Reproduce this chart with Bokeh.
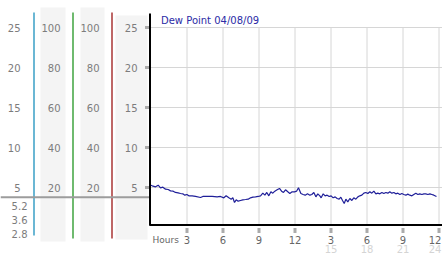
from bokeh.plotting import figure
from bokeh.models import Range1d, Legend, LegendItem
from bokeh.embed import file_html
from bokeh.resources import INLINE
from bokeh.core.properties import value

# ---------------- data ----------------
series_name = "Dew Point 04/08/09"
x_axis_name = "Hours"

hours = [0.0, 0.1, 0.38, 0.6, 0.79, 0.99, 1.21, 1.43, 1.63, 1.85,
         2.04, 2.26, 2.46, 2.65, 2.82, 2.99, 3.15, 3.43, 3.71, 4.13,
         4.32, 4.68, 5.1, 5.51, 5.79, 6.07, 6.26, 6.49, 6.68, 6.82,
         6.96, 7.1, 7.26, 7.46, 7.65, 7.88, 8.1, 8.29, 8.49, 8.71,
         8.93, 9.13, 9.32, 9.49, 9.65, 9.82, 9.99, 10.15, 10.32, 10.51,
         10.71, 10.88, 11.04, 11.21, 11.4, 11.57, 11.76, 11.96, 12.13, 12.29,
         12.49, 12.68, 12.85, 13.04, 13.24, 13.4, 13.57, 13.74, 13.9, 14.07,
         14.18, 14.35, 14.51, 14.68, 14.85, 15.01, 15.18, 15.35, 15.51, 15.68,
         15.82, 15.96, 16.1, 16.24, 16.4, 16.57, 16.74, 16.9, 17.07, 17.24,
         17.4, 17.57, 17.74, 17.9, 18.07, 18.24, 18.4, 18.57, 18.74, 18.9,
         19.07, 19.24, 19.4, 19.57, 19.74, 19.9, 20.07, 20.24, 20.4, 20.57,
         20.74, 20.9, 21.07, 21.24, 21.4, 21.57, 21.74, 21.9, 22.07, 22.24,
         22.4, 22.57, 22.74, 22.9, 23.07, 23.24, 23.4, 23.57, 23.79]
dew_point = [5.29, 5.21, 5.08, 5.29, 4.96, 5.04, 4.79, 4.75, 4.58, 4.54,
             4.38, 4.33, 4.25, 4.21, 4.04, 4.13, 3.96, 3.96, 3.88, 3.75,
             3.88, 3.88, 3.88, 3.83, 3.88, 3.71, 3.96, 3.71, 3.54, 3.71,
             3.13, 3.46, 3.29, 3.38, 3.46, 3.5, 3.54, 3.71, 3.79, 3.83,
             3.88, 3.96, 4.29, 4.04, 4.38, 3.96, 4.46, 4.29, 4.54, 4.71,
             4.88, 4.54, 4.38, 4.71, 4.46, 4.25, 4.46, 4.46, 4.54, 4.96,
             4.25, 4.13, 4.04, 4.21, 4.04, 4.13, 4.38, 3.83, 4.21, 3.96,
             3.71, 4.21, 3.96, 4.04, 3.88, 3.96, 3.71, 3.83, 3.63, 3.54,
             3.79, 3.38, 3.0, 3.54, 3.21, 3.63, 3.38, 3.71, 3.54, 3.83,
             3.96, 4.04, 4.29, 4.38, 4.25, 4.46, 4.29, 4.54, 4.21, 4.29,
             4.21, 4.38, 4.25, 4.38, 4.29, 4.46, 4.29, 4.38, 4.21, 4.29,
             4.13, 4.25, 4.13, 4.04, 4.17, 4.04, 3.96, 4.13, 4.29, 4.13,
             4.21, 4.13, 4.21, 4.21, 4.13, 4.21, 4.13, 4.04, 3.88]

x_ticks = [3, 6, 9, 12, 15, 18, 21, 24]
x_tick_labels = ["3", "6", "9", "12", "3", "6", "9", "12"]
x_day_ticks = [15, 18, 21, 24]
x_day_labels = ["15", "18", "21", "24"]

y_ticks = [25, 20, 15, 10, 5]
dew_scale_labels = ["25", "20", "15", "10", "5"]
humidity_labels = ["100", "80", "60", "40", "20"]
humidity2_labels = ["100", "80", "60", "40", "20"]
dew_axis_labels = ["25", "20", "15", "10", "5"]
summary_values = ["5.2", "3.6", "2.8"]

# ---------------- geometry / style ----------------
W, H = 442, 253
PX_PER_UNIT = 8.0
Y25_PX = 27.0
PX_PER_HOUR = 12.0
X0_PX = 150.5
FONT = "DejaVu Sans"
LABEL_GRAY = "#7c7c7c"
GRID = "#d6d6d6"
HR = "hours"


def py(p):
    """absolute pixel row -> value on the shared vertical scale"""
    return 25 - (p - Y25_PX) / PX_PER_UNIT


def hx(p):
    """absolute pixel column -> hours"""
    return (p - X0_PX) / PX_PER_HOUR


def edge_offsets(n_items):
    """nudge only the last label left so it stays inside the canvas"""
    return [0] * (n_items - 1) + [-4]


p = figure(width=W, height=H, x_range=Range1d(0, W), y_range=Range1d(py(H), py(0)),
           min_border=0, min_border_left=0, min_border_right=0, min_border_top=0,
           min_border_bottom=0, toolbar_location=None, output_backend="svg",
           x_axis_location=None, y_axis_location=None)
p.extra_x_ranges = {HR: Range1d(hx(0), hx(W))}
p.outline_line_color = None
p.xgrid.visible = False
p.ygrid.visible = False
p.background_fill_color = "white"
p.border_fill_color = "white"

# ---------------- left panel ----------------
p.quad(left=[40, 80], right=[65, 104], top=[py(7), py(7)], bottom=[py(241), py(241)],
       fill_color="#f4f4f4", line_color=None)
p.quad(left=[115], right=[147], top=[py(15)], bottom=[py(239)],
       fill_color="#f4f4f4", line_color=None)

p.segment(x0=[33.5], x1=[33.5], y0=[py(12)], y1=[py(235)], line_color="#3a9fc6", line_width=1.5)
p.segment(x0=[72.5], x1=[72.5], y0=[py(12)], y1=[py(238)], line_color="#3fa33f", line_width=1.5)
p.segment(x0=[111.5], x1=[111.5], y0=[py(12)], y1=[py(238)], line_color="#a83434", line_width=1.5)

p.segment(x0=[0], x1=[149], y0=[py(196.7)], y1=[py(196.7)], line_color="#9c9c9c", line_width=2)

common = dict(text_baseline="middle", text_font=value(FONT), text_font_size="10px",
              text_color=LABEL_GRAY)
p.text(x=[20] * len(y_ticks), y=y_ticks, text=dew_scale_labels, text_align="right", **common)
p.text(x=[60] * len(y_ticks), y=y_ticks, text=humidity_labels, text_align="right", **common)
p.text(x=[99] * len(y_ticks), y=y_ticks, text=humidity2_labels, text_align="right", **common)
p.text(x=[137] * len(y_ticks), y=y_ticks, text=dew_axis_labels, text_align="right", **common)
p.text(x=[27] * 3, y=[py(205), py(219), py(233)], text=summary_values, text_align="right", **common)

# ---------------- chart area ----------------
n = len(x_ticks)
p.segment(x0=[0] * len(y_ticks), x1=[hx(W)] * len(y_ticks), y0=y_ticks, y1=y_ticks,
          line_color=GRID, line_width=1, x_range_name=HR)
p.segment(x0=x_ticks, x1=x_ticks, y0=[py(224)] * n, y1=[max(y_ticks)] * n,
          line_color=GRID, line_width=1, x_range_name=HR)

# axis lines
p.segment(x0=[149.5], x1=[149.5], y0=[py(13)], y1=[py(225)], line_color="black", line_width=2)
p.segment(x0=[149], x1=[W], y0=[py(224.5)], y1=[py(224.5)], line_color="black", line_width=2)

# tick marks
p.rect(x=[146.5] * len(y_ticks), y=y_ticks, width=4, height=3, width_units="screen",
       height_units="screen", fill_color="#ababab", line_color=None)
p.rect(x=x_ticks, y=[py(230)] * n, width=3, height=5, width_units="screen",
       height_units="screen", fill_color="#ababab", line_color=None, x_range_name=HR)

# tick labels
p.text(x=x_ticks, y=[py(239.5)] * n, text=x_tick_labels, x_offset=edge_offsets(n),
       text_align="center", text_baseline="middle", text_font=value(FONT),
       text_font_size="10px", text_color="#666666", x_range_name=HR)
p.text(x=x_day_ticks, y=[py(248)] * len(x_day_ticks), text=x_day_labels,
       x_offset=edge_offsets(len(x_day_ticks)), text_align="center",
       text_baseline="middle", text_font=value(FONT), text_font_size="10px",
       text_color="#d4d4d4", x_range_name=HR)
p.text(x=[hx(152)], y=[py(239.5)], text=[x_axis_name], text_align="left",
       text_baseline="middle", text_font=value(FONT), text_font_size="9px",
       text_color="#666666", x_range_name=HR)

# series
p.line(hours, dew_point, line_color="#1f1f99", line_width=1.2, x_range_name=HR)

dot = p.scatter(x=[], y=[], marker="circle", size=6, fill_color="#b8b8b8",
                line_color="#8c8c8c", x_range_name=HR)
legend = Legend(items=[LegendItem(label=series_name, renderers=[dot])], location=(150, 226),
                margin=0, padding=1, glyph_width=9, glyph_height=9, label_height=12,
                label_standoff=1, label_text_font=FONT, label_text_font_size="10px",
                label_text_color="#2b2ba6", background_fill_alpha=0, border_line_alpha=0)
p.add_layout(legend)

open("out.html", "w").write(file_html(p, INLINE))
